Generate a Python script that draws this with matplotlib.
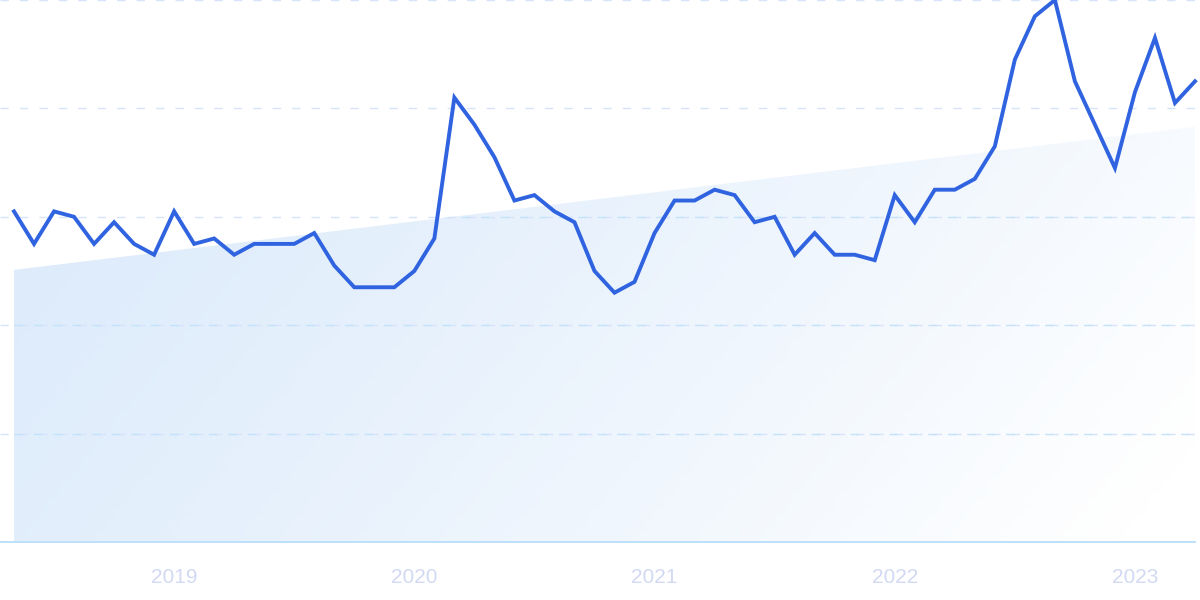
import matplotlib
matplotlib.use("Agg")
import matplotlib.pyplot as plt
import numpy as np
from matplotlib.patches import Polygon

# monthly index values, May 2018 .. Apr 2023
values = [61, 55, 61, 60, 55, 59, 55, 53, 61, 55, 56, 53, 55, 55, 55, 57, 51, 47, 47, 47,
          50, 56, 82, 77, 71, 63, 64, 61, 59, 50, 46, 48, 57, 63, 63, 65, 64, 59, 60, 53,
          57, 53, 53, 52, 64, 59, 65, 65, 67, 73, 89, 97, 100, 85, 77, 69, 83, 93, 81, 85]
trend_start = 50.2
trend_end = 76.6
year_labels = ['2019', '2020', '2021', '2022', '2023']
year_idx = [8, 20, 32, 44, 56]
grid_levels = [20, 40, 60, 80, 100]

x = np.arange(len(values))

fig = plt.figure(figsize=(12, 6), dpi=100)
ax = fig.add_axes([14 / 1200, 1 - 542 / 600, (1195 - 14) / 1200, 542 / 600])
ax.set_xlim(0, len(values) - 1)
ax.set_ylim(0, 100)

# gradient trend area, blue at top-left fading to white at bottom-right
trend = np.linspace(trend_start, trend_end, len(values))
gx, gy = np.meshgrid(np.linspace(0, 1, 200), np.linspace(0, 1, 100))
t = np.clip(0.8 * gx + 0.3 * gy - 0.05, 0, 1) ** 1.2
top = np.array([219, 234, 251]) / 255
img = top[None, None, :] * (1 - t[..., None]) + np.ones(3)[None, None, :] * t[..., None]
im = ax.imshow(img, extent=[0, len(values) - 1, 0, 100], origin='upper', aspect='auto', zorder=1)
poly = Polygon(list(zip(x, trend)) + [(x[-1], 0), (0, 0)], closed=True, transform=ax.transData,
               facecolor='none', edgecolor='none')
ax.add_patch(poly)
im.set_clip_path(poly)

# dashed grid across full width; a bit more cyan where it crosses the area
for g in grid_levels:
    ax.axhline(g, xmin=-14 / 1181, xmax=1 + 5 / 1181, color='#d6e3fb', lw=1.0,
               dashes=(6, 8), clip_on=False, zorder=2)
    inner = ax.axhline(g, color='#c3e3fb', lw=1.0, dashes=(6, 8), zorder=2)
    inner.set_clip_path(poly)
ax.axhline(0, xmin=-14 / 1181, xmax=1, color='#bde0fb', lw=1.4, clip_on=False, zorder=2)

ax.plot(x, values, color='#2f63e0', lw=2.8, solid_joinstyle='miter', zorder=3, clip_on=False)

ax.set_xticks(year_idx)
ax.set_xticklabels(year_labels, fontsize=15, color='#d2d9f2', family='Liberation Sans')
ax.tick_params(axis='x', length=0, pad=19)
ax.set_yticks([])
for s in ax.spines.values():
    s.set_visible(False)

fig.savefig('out.png', dpi=100)
